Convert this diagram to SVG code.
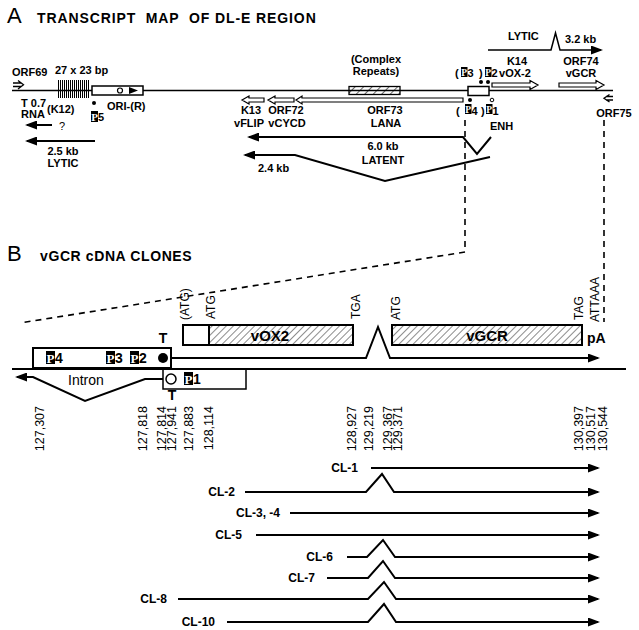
<svg xmlns="http://www.w3.org/2000/svg" width="639" height="630" viewBox="0 0 639 630">
<style>
text{font-family:"Liberation Sans",Arial,Helvetica,sans-serif;fill:#000}
.b{font-weight:bold;font-size:11px}
.c{text-anchor:middle}
.big{font-size:22px}
.h{font-weight:bold;font-size:14px}
.num{font-size:12.5px;text-anchor:end}
.rl{font-size:12px}
.cl{font-weight:bold;font-size:12px;text-anchor:end}
.ln{fill:none;stroke:#000;stroke-width:2}
.ln15{fill:none;stroke:#000;stroke-width:1.5}
.dash{fill:none;stroke:#000;stroke-width:1.6;stroke-dasharray:6 5}
.oa{fill:#fff;stroke:#000;stroke-width:1.2}
.pw{font-family:"Liberation Serif","Times New Roman",serif;font-weight:bold;fill:#fff;text-anchor:middle}
.box{fill:#fff;stroke:#000;stroke-width:1.5}
.box2{fill:#fff;stroke:#000;stroke-width:2}
</style>
<defs>
<marker id="ah" markerWidth="12" markerHeight="9" refX="10" refY="4.5" orient="auto" markerUnits="userSpaceOnUse"><path d="M0,0 L12,4.5 L0,9 z" fill="#000"/></marker>
<pattern id="hatchA" width="6" height="6" patternUnits="userSpaceOnUse" patternTransform="rotate(45)"><line x1="0" y1="0" x2="0" y2="6" stroke="#000" stroke-width="1.2"/></pattern>
<pattern id="hatchB" width="5" height="5" patternUnits="userSpaceOnUse" patternTransform="rotate(45)"><line x1="0" y1="0" x2="0" y2="5" stroke="#000" stroke-width="0.9"/></pattern>
</defs>

<!-- Titles -->
<g id="title-A">
<text class="big" x="7" y="23">A</text>
<text class="h" x="37" y="23" letter-spacing="0.9" xml:space="preserve">TRANSCRIPT  MAP  OF DL-E REGION</text>
</g>
<g id="title-B">
<text class="big" x="7" y="261">B</text>
<text class="h" x="40" y="261" letter-spacing="0.6">vGCR cDNA CLONES</text>
</g>

<!-- Section A genome -->
<g id="genomeA">
<line x1="12" y1="90.5" x2="613" y2="90.5" stroke="#000" stroke-width="1.5"/>
</g>
<g id="orf69">
<text class="b" x="12" y="76">ORF69</text>
<path d="M13,83 H21 M13,86.5 H21 M18,80.5 L23.5,84.75 L18,89" fill="none" stroke="#000" stroke-width="1.3"/>
</g>
<g id="repeats27">
<text class="b" x="55" y="74">27 x 23 bp</text>
<path d="M58.5,80V98M60.5,80V98M62.5,80V98M64.5,80V98M66.5,80V98M68.5,80V98M70.5,80V98M72.5,80V98M74.5,80V98M76.5,80V98M78.5,80V98M80.5,80V98M82.5,80V98M84.5,80V98M86.5,80V98M88.5,80V98" stroke="#000" stroke-width="1"/>
</g>
<g id="ori">
<rect class="box" x="92" y="86" width="51" height="9"/>
<circle cx="120" cy="90.5" r="2.5" fill="#fff" stroke="#000" stroke-width="1.2"/>
<polygon points="129,87 138,90.5 129,94" fill="#000"/>
<text class="b" x="107" y="110">ORI-(R)</text>
<circle cx="94" cy="103" r="2" fill="#000"/>
<rect x="91" y="111" width="7" height="11" fill="#000"/>
<text class="pw" x="94.5" y="120.5" font-size="11">P</text>
<text class="b" x="98" y="121">5</text>
</g>
<g id="k12">
<text class="b" x="21" y="107" font-size="10.5">T 0.7</text>
<text class="b" x="21" y="118" font-size="10.5">RNA</text>
<text class="b" x="47" y="113">(K12)</text>
<text x="59" y="130" font-size="11">?</text>
</g>
<g id="lytic25">
<text class="b c" x="63" y="155">2.5 kb</text>
<text class="b c" x="63" y="167">LYTIC</text>
</g>
<g id="complex">
<text class="b c" x="376" y="63">(Complex</text>
<text class="b c" x="376" y="75">Repeats)</text>
<rect x="349" y="86.5" width="51" height="8" fill="url(#hatchA)" stroke="#000" stroke-width="1.3"/>
</g>
<g id="k13">
<polygon class="oa" points="242,100 249,96 249,98 264,98 264,102 249,102 249,104"/>
<text class="b c" x="251" y="114">K13</text>
<text class="b c" x="249" y="127">vFLIP</text>
</g>
<g id="orf72">
<polygon class="oa" points="268,100 275,96 275,98 294,98 294,102 275,102 275,104"/>
<text class="b c" x="286" y="114">ORF72</text>
<text class="b c" x="287" y="127">vCYCD</text>
</g>
<g id="orf73">
<polygon class="oa" points="296,100 302,96 302,98 463,98 463,102 302,102 302,104"/>
<text class="b c" x="385" y="114">ORF73</text>
<text class="b c" x="386" y="127">LANA</text>
</g>
<g id="latent">
<text class="b c" x="383" y="150">6.0 kb</text>
<text class="b c" x="383" y="164">LATENT</text>
<text class="b" x="258" y="172">2.4 kb</text>
</g>
<g id="promoterA">
<rect class="box" x="468" y="86.5" width="21" height="9"/>
<circle cx="481" cy="82" r="2" fill="#000"/>
<circle cx="488" cy="82" r="2" fill="#000"/>
<circle cx="470" cy="100" r="2" fill="#000"/>
<circle cx="492" cy="100" r="1.8" fill="#fff" stroke="#000" stroke-width="1"/>
<text class="b" x="455" y="77">(</text>
<rect x="461" y="67" width="6.5" height="10" fill="#000"/>
<text class="pw" x="464.2" y="75.5" font-size="9.5">P</text>
<text class="b" x="467.5" y="77">3</text>
<text class="b" x="479" y="77">)</text>
<rect x="485" y="67" width="6.5" height="10" fill="#000"/>
<text class="pw" x="488.2" y="75.5" font-size="9.5">P</text>
<text class="b" x="491.5" y="77">2</text>
<text class="b" x="456" y="115">(</text>
<rect x="465" y="104" width="6.5" height="10" fill="#000"/>
<text class="pw" x="468.2" y="112.5" font-size="9.5">P</text>
<text class="b" x="471.5" y="115">4</text>
<text class="b" x="481" y="115">)</text>
<rect x="486" y="104" width="6.5" height="10" fill="#000"/>
<text class="pw" x="489.2" y="112.5" font-size="9.5">P</text>
<text class="b" x="492.5" y="115">1</text>
<text class="b" x="490" y="130">ENH</text>
</g>
<g id="k14">
<polygon class="oa" points="492,83 530,83 530,80.5 538,85 530,89.5 530,87 492,87"/>
<text class="b c" x="517" y="65">K14</text>
<text class="b c" x="515" y="77">vOX-2</text>
</g>
<g id="orf74">
<polygon class="oa" points="559,83 596,83 596,80.5 604,85 596,89.5 596,87 559,87"/>
<text class="b c" x="581" y="65">ORF74</text>
<text class="b c" x="581" y="77">vGCR</text>
</g>
<g id="orf75">
<path d="M613,96.5 H606 M613,100 H606 M609.5,94.5 L604,98.25 L609.5,102" fill="none" stroke="#000" stroke-width="1.3"/>
<text class="b c" x="614" y="117">ORF75</text>
</g>
<g id="lytic32">
<text class="b" x="508" y="40">LYTIC</text>
<text class="b" x="565" y="43">3.2 kb</text>
</g>

<!-- Section B nodes -->
<g id="vox2">
<rect class="box2" x="183" y="325" width="170" height="20"/>
<rect x="209" y="325" width="144" height="20" fill="url(#hatchB)" stroke="#000" stroke-width="2"/>
<text x="270" y="341" font-size="15" font-weight="bold" text-anchor="middle">vOX2</text>
</g>
<g id="vgcr">
<rect x="392" y="325" width="190" height="20" fill="url(#hatchB)" stroke="#000" stroke-width="2"/>
<text x="487" y="341" font-size="15" font-weight="bold" text-anchor="middle">vGCR</text>
<text x="587" y="343" font-size="14" font-weight="bold">pA</text>
</g>
<g id="codons">
<text class="rl" transform="translate(189,320) rotate(-90)">(ATG)</text>
<text class="rl" transform="translate(215,319) rotate(-90)">ATG</text>
<text class="rl" transform="translate(360,319) rotate(-90)">TGA</text>
<text class="rl" transform="translate(400,320) rotate(-90)">ATG</text>
<text class="rl" transform="translate(583,320) rotate(-90)">TAG</text>
<text class="rl" transform="translate(599,322) rotate(-90)">ATTAAA</text>
</g>
<g id="p4box">
<rect class="box2" x="33" y="348" width="138" height="20"/>
<rect x="46" y="351" width="9" height="13" fill="#000"/>
<text class="pw" x="50.5" y="362.5" font-size="13">P</text>
<text x="55" y="363" font-size="14" font-weight="bold">4</text>
<rect x="106" y="351" width="9" height="13" fill="#000"/>
<text class="pw" x="110.5" y="362.5" font-size="13">P</text>
<text x="115" y="363" font-size="14" font-weight="bold">3</text>
<rect x="130" y="351" width="9" height="13" fill="#000"/>
<text class="pw" x="134.5" y="362.5" font-size="13">P</text>
<text x="139" y="363" font-size="14" font-weight="bold">2</text>
<circle cx="163" cy="358" r="5" fill="#000"/>
<text x="163" y="343" font-size="14" font-weight="bold" text-anchor="middle">T</text>
</g>
<g id="p1box">
<rect class="box" x="163" y="369" width="83" height="20"/>
<circle cx="171" cy="379" r="5" fill="#fff" stroke="#000" stroke-width="1.5"/>
<rect x="184" y="372" width="9" height="13" fill="#000"/>
<text class="pw" x="188.5" y="383.5" font-size="13">P</text>
<text x="193" y="384" font-size="14" font-weight="bold">1</text>
<text x="172" y="400" font-size="14" font-weight="bold" text-anchor="middle">T</text>
</g>
<g id="intron">
<text x="68" y="385" font-size="14">Intron</text>
</g>
<g id="coords">
<text class="num" transform="translate(43.5,406) rotate(-90)">127,307</text>
<text class="num" transform="translate(146.5,406) rotate(-90)">127,818</text>
<text class="num" transform="translate(165.5,406) rotate(-90)">127,814</text>
<text class="num" transform="translate(176,406) rotate(-90)">127,941</text>
<text class="num" transform="translate(193,406) rotate(-90)">127,883</text>
<text class="num" transform="translate(213,406) rotate(-90)">128,114</text>
<text class="num" transform="translate(356,406) rotate(-90)">128,927</text>
<text class="num" transform="translate(373,406) rotate(-90)">129,219</text>
<text class="num" transform="translate(392,406) rotate(-90)">129,367</text>
<text class="num" transform="translate(402,406) rotate(-90)">129,371</text>
<text class="num" transform="translate(583,406) rotate(-90)">130,397</text>
<text class="num" transform="translate(595,406) rotate(-90)">130,517</text>
<text class="num" transform="translate(607,406) rotate(-90)">130,544</text>
</g>
<g id="clones">
<text class="cl" x="358" y="472">CL-1</text>
<text class="cl" x="235" y="496">CL-2</text>
<text class="cl" x="280" y="517">CL-3, -4</text>
<text class="cl" x="242" y="539">CL-5</text>
<text class="cl" x="333" y="561">CL-6</text>
<text class="cl" x="315" y="582">CL-7</text>
<text class="cl" x="167" y="603">CL-8</text>
<text class="cl" x="215" y="626">CL-10</text>
</g>

<!-- Connectors -->
<g id="connectors">
<path class="ln" d="M95,141 L27,141" marker-end="url(#ah)"/>
<path class="ln" d="M52,125 L27,125" marker-end="url(#ah)"/>
<path class="ln" d="M491,137 L477,154 L463,137 L249,137" marker-end="url(#ah)"/>
<path class="ln" d="M490,157 L385,181 L295,155 L245,155" marker-end="url(#ah)"/>
<path class="ln15" d="M488,50 L551,50 L555.5,33 L560,50 L601,50" marker-end="url(#ah)"/>
<polyline class="dash" points="465,120 465,252 20,323"/>
<line class="dash" x1="604" y1="120" x2="604" y2="322"/>
<line x1="12" y1="369" x2="626" y2="369" stroke="#000" stroke-width="2"/>
<path class="ln" d="M171,358 L366,358 L378,327 L390,358 L598,358" marker-end="url(#ah)"/>
<path class="ln" d="M163,379 L145,379 L85,401 L33,377 L17,377" marker-end="url(#ah)"/>
<path class="ln" d="M371,468 L598,468" marker-end="url(#ah)"/>
<path class="ln" d="M245,492 L366,492 L382,474 L394,492 L598,492" marker-end="url(#ah)"/>
<path class="ln" d="M290,513 L598,513" marker-end="url(#ah)"/>
<path class="ln" d="M256,535 L598,535" marker-end="url(#ah)"/>
<path class="ln" d="M347,557 L367,557 L383,540 L395,557 L598,557" marker-end="url(#ah)"/>
<path class="ln" d="M327,578 L368,578 L383,561 L395,578 L598,578" marker-end="url(#ah)"/>
<path class="ln" d="M178,599 L368,599 L384,582 L396,599 L598,599" marker-end="url(#ah)"/>
<path class="ln" d="M227,622 L368,622 L384,604 L396,622 L598,622" marker-end="url(#ah)"/>
</g>
</svg>
